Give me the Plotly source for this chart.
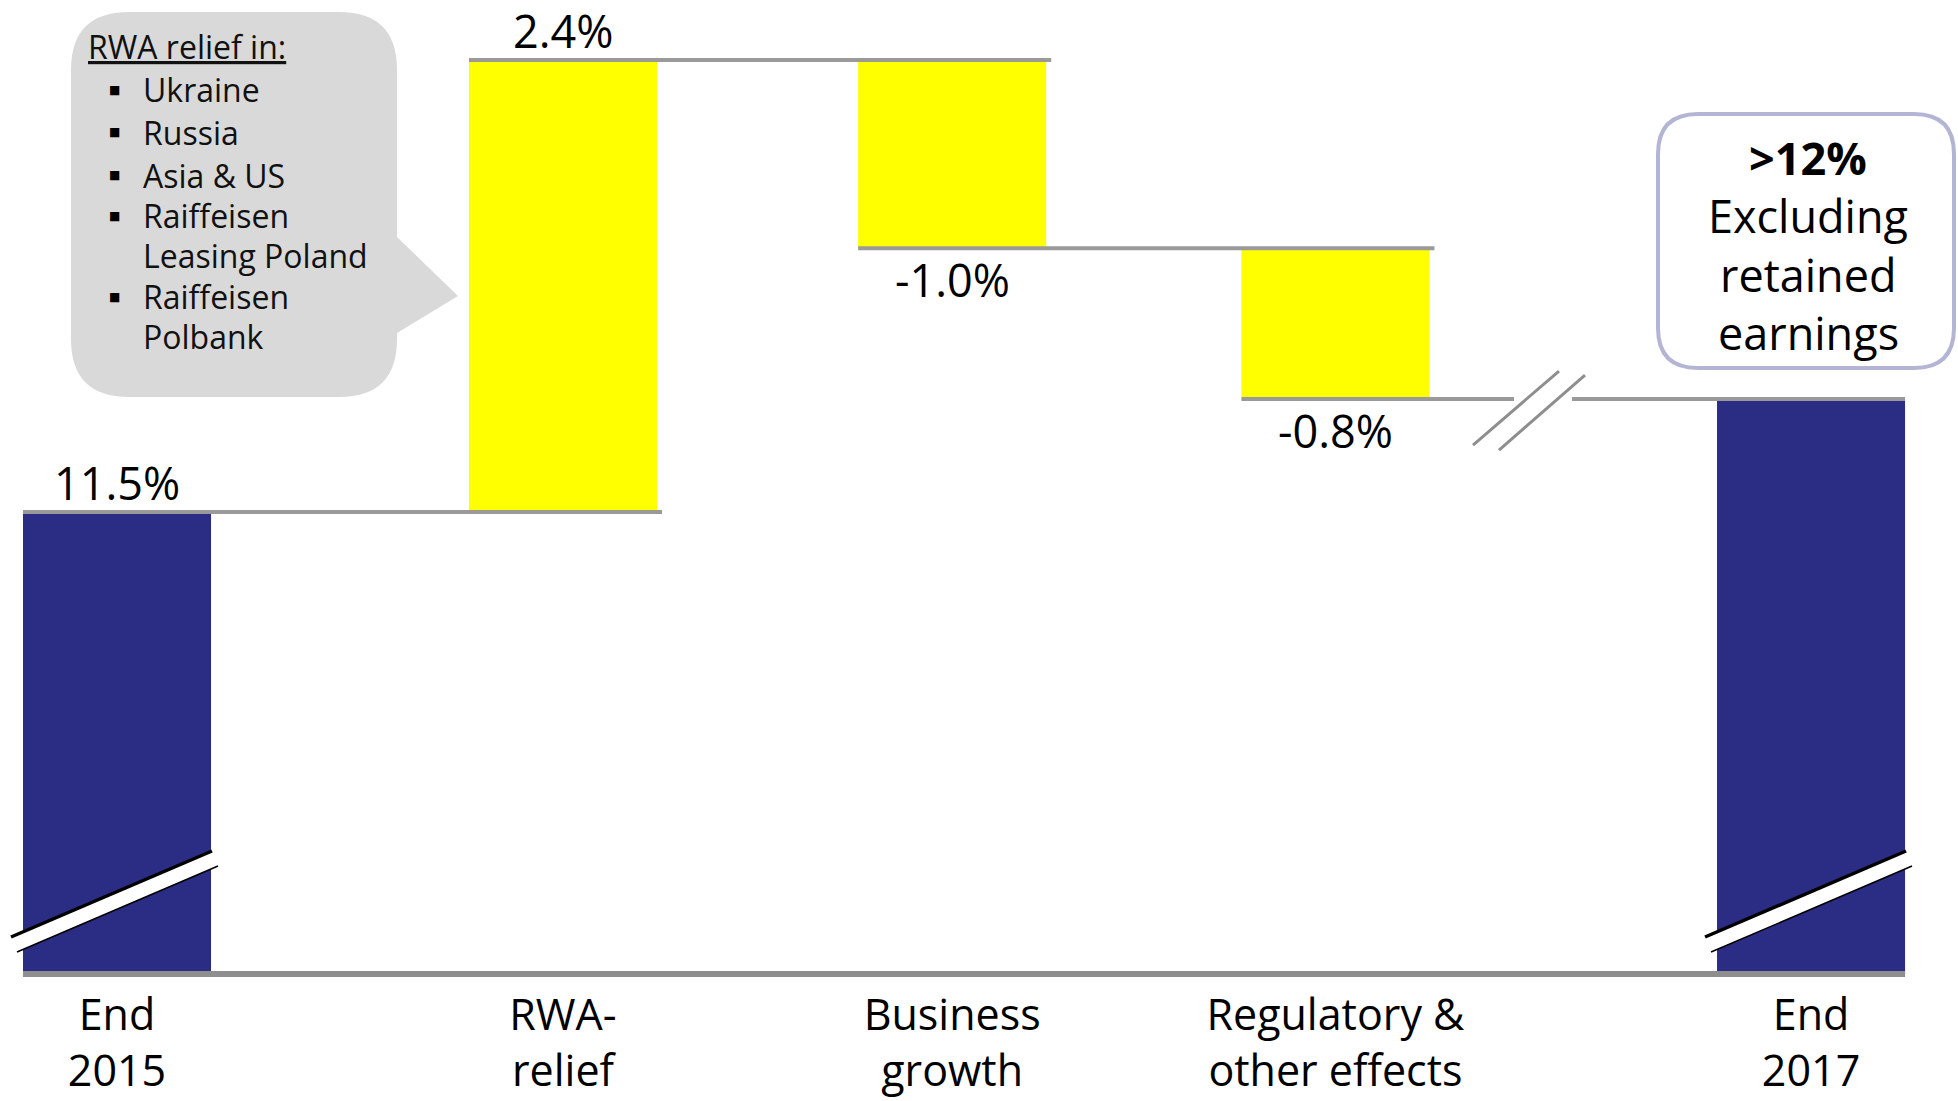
import plotly.graph_objects as go

# ---- data -------------------------------------------------------------
categories = ["End<br>2015", "RWA-<br>relief", "Business<br>growth",
              "Regulatory &<br>other effects", "End<br>2017"]
measures = ["absolute", "relative", "relative", "relative", "total"]
changes = [11.5, 2.4, -1.0, -0.8, 0.0]

relief_title = "RWA relief in:"
relief_items = [["Ukraine"], ["Russia"], ["Asia & US"],
                ["Raiffeisen", "Leasing Poland"], ["Raiffeisen", "Polbank"]]
target_lines = [">12%", "Excluding", "retained", "earnings"]

# ---- styling / layout constants --------------------------------------
W, H = 1958, 1101
MARGIN_B = 127
PLOT_H = H - MARGIN_B
FONT = "Open Sans"
NAVY = "#2B2D84"
YELLOW = "#FFFF00"
GREY = "#8E8E8E"
LINE_GREY = "#9A9A9A"

slots = [0.0, 1.053, 1.972, 2.877, 4.0]     # category positions on the x axis
bar_w = 0.444
x_range = [-0.2763, 4.347]
y_range = [9.0465, 14.219]

ux = (x_range[1] - x_range[0]) / W            # x data units per pixel
uy = (y_range[1] - y_range[0]) / PLOT_H       # y data units per pixel

# running level after each step
levels = []
run = 0.0
for m, v in zip(measures, changes):
    if m == "absolute":
        run = v
    elif m == "relative":
        run += v
    levels.append(run)


def px_x(px):
    return px / W


def px_y(py):
    return 1 - py / PLOT_H


fig = go.Figure(go.Waterfall(
    x=slots,
    measure=measures,
    y=changes,
    width=[bar_w] * len(slots),
    increasing=dict(marker=dict(color=YELLOW, line=dict(width=0))),
    decreasing=dict(marker=dict(color=YELLOW, line=dict(width=0))),
    totals=dict(marker=dict(color=NAVY, line=dict(width=0))),
    connector=dict(visible=False),
    textinfo="none",
    hoverinfo="skip",
))

shapes = []
annotations = []

# connector lines across the top edge of consecutive bars
gap_center = x_range[0] + 1543 * ux
gap_half = 29 * ux
for i in range(len(slots) - 1):
    lvl = levels[i]
    x0 = slots[i] - bar_w / 2
    x1 = slots[i + 1] + bar_w / 2 + 5 * ux
    if i == len(slots) - 2:
        segs = [(x0, gap_center - gap_half), (gap_center + gap_half, slots[i + 1] + bar_w / 2)]
    else:
        segs = [(x0, x1)]
    for a, b in segs:
        shapes.append(dict(type="line", xref="x", yref="y", x0=a, x1=b, y0=lvl, y1=lvl,
                           line=dict(color=LINE_GREY, width=4)))

# axis break slashes on the last connector
for (dx0, dy0, dx1, dy1) in [(-70, -46, 16, 28), (-44, -51, 42, 24)]:
    shapes.append(dict(type="line", xref="x", yref="y",
                       x0=gap_center + dx0 * ux, y0=levels[3] + dy0 * uy,
                       x1=gap_center + dx1 * ux, y1=levels[3] + dy1 * uy,
                       line=dict(color=GREY, width=3)))

# baseline
shapes.append(dict(type="line", xref="paper", yref="paper",
                   x0=(slots[0] - bar_w / 2 - x_range[0]) / (x_range[1] - x_range[0]),
                   x1=(slots[-1] + bar_w / 2 - x_range[0]) / (x_range[1] - x_range[0]),
                   y0=0, y1=0, line=dict(color=GREY, width=6)))

# break marks across the two total bars
for idx in (0, len(slots) - 1):
    cx = slots[idx]
    up = [(-106, 37), (95, 123)]
    lo = [(-100, 22), (101, 108)]
    pts = up + lo[::-1]
    path = "M " + " L ".join(f"{cx + dx * ux} {dy / PLOT_H}" for dx, dy in pts) + " Z"
    shapes.append(dict(type="path", xref="x", yref="paper", path=path,
                       fillcolor="white", line=dict(width=0)))
    shapes.append(dict(type="line", xref="x", yref="paper",
                       x0=cx + up[0][0] * ux, y0=up[0][1] / PLOT_H,
                       x1=cx + up[1][0] * ux, y1=up[1][1] / PLOT_H,
                       line=dict(color="black", width=3.5)))
    shapes.append(dict(type="line", xref="x", yref="paper",
                       x0=cx + lo[0][0] * ux, y0=lo[0][1] / PLOT_H,
                       x1=cx + lo[1][0] * ux, y1=lo[1][1] / PLOT_H,
                       line=dict(color="black", width=1.5)))


def rounded_path(x0, y0, x1, y1, r, pointer=None):
    """Rounded rectangle in pixel space (y down), optional pointer on the right side."""
    pts = [f"M {px_x(x0 + r)} {px_y(y0)}",
           f"L {px_x(x1 - r)} {px_y(y0)}",
           f"Q {px_x(x1)} {px_y(y0)} {px_x(x1)} {px_y(y0 + r)}"]
    if pointer:
        (ya, tx, ty, yb) = pointer
        pts += [f"L {px_x(x1)} {px_y(ya)}", f"L {px_x(tx)} {px_y(ty)}", f"L {px_x(x1)} {px_y(yb)}"]
    pts += [f"L {px_x(x1)} {px_y(y1 - r)}",
            f"Q {px_x(x1)} {px_y(y1)} {px_x(x1 - r)} {px_y(y1)}",
            f"L {px_x(x0 + r)} {px_y(y1)}",
            f"Q {px_x(x0)} {px_y(y1)} {px_x(x0)} {px_y(y1 - r)}",
            f"L {px_x(x0)} {px_y(y0 + r)}",
            f"Q {px_x(x0)} {px_y(y0)} {px_x(x0 + r)} {px_y(y0)}", "Z"]
    return " ".join(pts)


# speech bubble listing the relief sources
shapes.append(dict(type="path", xref="paper", yref="paper",
                   path=rounded_path(71, 12, 397, 397, 58, pointer=(237, 458, 296, 333)),
                   fillcolor="#D9D9D9", line=dict(width=0), layer="below"))

# target box
shapes.append(dict(type="path", xref="paper", yref="paper",
                   path=rounded_path(1658, 114, 1954, 368, 40),
                   fillcolor="white", line=dict(color="#B4B4D4", width=4)))

# value labels
VFS = 45
for i, v in enumerate(changes[:-1]):
    label = f"{v:.1f}%"
    if v >= 0:
        annotations.append(dict(x=slots[i], y=levels[i], xref="x", yref="y", text=label,
                                showarrow=False, yanchor="bottom", yshift=-3,
                                font=dict(family=FONT, size=VFS, color="black")))
    else:
        annotations.append(dict(x=slots[i], y=levels[i], xref="x", yref="y", text=label,
                                showarrow=False, yanchor="top", yshift=1,
                                font=dict(family=FONT, size=VFS, color="black")))

# bubble text
BFS = 32
annotations.append(dict(x=px_x(86), y=px_y(47), xref="paper", yref="paper",
                        text=f"<u>{relief_title}</u>", showarrow=False,
                        xanchor="left", yanchor="middle",
                        font=dict(family=FONT, size=BFS, color="#111111")))
row_y = [90, 132, 175, 216, 255, 297, 336]
r = 0
for item in relief_items:
    annotations.append(dict(x=px_x(114), y=px_y(row_y[r]), xref="paper", yref="paper",
                            text="■", showarrow=False, xanchor="center", yanchor="middle",
                            font=dict(family="DejaVu Sans", size=12, color="black")))
    for line in item:
        annotations.append(dict(x=px_x(141), y=px_y(row_y[r]), xref="paper", yref="paper",
                                text=line, showarrow=False, xanchor="left", yanchor="middle",
                                font=dict(family=FONT, size=BFS, color="#111111")))
        r += 1

# target box text, one line at a time
box_rows = [157, 216, 274, 332]
for j, line in enumerate(target_lines):
    annotations.append(dict(x=px_x(1808), y=px_y(box_rows[j]), xref="paper", yref="paper",
                            text=f"<b>{line}</b>" if j == 0 else line,
                            showarrow=False, xanchor="center", yanchor="middle", borderpad=0,
                            font=dict(family=FONT, size=45, color="black")))

fig.update_layout(
    width=W, height=H,
    margin=dict(l=0, r=0, t=0, b=MARGIN_B, pad=0),
    paper_bgcolor="white", plot_bgcolor="white",
    showlegend=False,
    xaxis=dict(range=x_range, tickvals=slots, ticktext=categories,
               showgrid=False, zeroline=False, showline=False, ticks="",
               automargin=False, ticklabelstandoff=12,
               tickfont=dict(family=FONT, size=43, color="black")),
    yaxis=dict(range=y_range, showgrid=False, zeroline=False, showline=False,
               showticklabels=False, ticks="", automargin=False),
    shapes=shapes,
    annotations=annotations,
)

fig.write_html("out.html")
